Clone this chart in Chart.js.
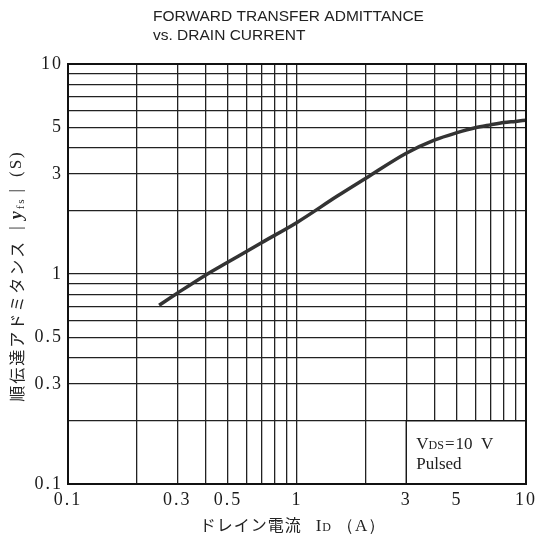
<!DOCTYPE html>
<html>
<head>
<meta charset="utf-8">
<script src="https://cdn.jsdelivr.net/npm/chart.js@4"></script>
<style>
  html, body { margin: 0; padding: 0; background: #fff; }
  #wrap { width: 540px; height: 544px; }
</style>
</head>
<body>
<div id="wrap"><canvas id="chart" width="540" height="544"></canvas></div>
<script>
// データ
const drainCurrent = [0.25, 0.3, 0.4, 0.5, 0.7, 1, 1.5, 2, 3, 4, 5, 6, 7, 8, 9, 10];
const admittance  = [0.71, 0.81, 0.99, 1.14, 1.41, 1.76, 2.35, 2.86, 3.76, 4.35, 4.71, 4.97, 5.13, 5.26, 5.33, 5.4];

const gridValues = [0.1, 0.2, 0.3, 0.4, 0.5, 0.6, 0.7, 0.8, 0.9, 1, 2, 3, 4, 5, 6, 7, 8, 9, 10];
const xTickLabels = [0.1, 0.3, 0.5, 1, 3, 5, 10];
const yTickLabels = [0.1, 0.3, 0.5, 1, 3, 5, 10];

// 凡例ボックス (条件表示) の範囲
const noteBoxX = [3, 10];
const noteBoxY = [0.1, 0.2];

const serif = "'Liberation Serif', 'DejaVu Serif', serif";
const jp = "'Noto Sans CJK JP', sans-serif";

// サブスクリプト付きテキストを描く
function drawParts(ctx, parts, x, y) {
    let cx = x;
    parts.forEach(p => {
        ctx.font = p.font;
        ctx.fillText(p.t, cx, y + (p.dy || 0));
        cx += ctx.measureText(p.t).width + (p.gap || 0);
    });
    return cx;
}
function partsWidth(ctx, parts) {
    let w = 0;
    parts.forEach(p => {
        ctx.font = p.font;
        w += ctx.measureText(p.t).width + (p.gap || 0);
    });
    return w;
}

const decorPlugin = {
    id: 'decor',
    beforeDraw(chart) {
        chart.ctx.letterSpacing = '2px';
    },
    afterDatasetsDraw(chart) {
        const { ctx, chartArea, scales } = chart;
        const x = scales.x, y = scales.y;
        ctx.save();
        ctx.letterSpacing = '0px';

        // 条件ボックス
        const bx0 = x.getPixelForValue(noteBoxX[0]);
        const bx1 = x.getPixelForValue(noteBoxX[1]);
        const by0 = y.getPixelForValue(noteBoxY[1]);
        const by1 = y.getPixelForValue(noteBoxY[0]);
        ctx.fillStyle = '#fff';
        ctx.fillRect(bx0, by0, bx1 - bx0, by1 - by0);
        ctx.strokeStyle = '#111';
        ctx.lineWidth = 1.4;
        ctx.strokeRect(bx0, by0, bx1 - bx0, by1 - by0);

        ctx.fillStyle = '#222';
        ctx.textBaseline = 'alphabetic';
        drawParts(ctx, [
            { t: 'V', font: '17px ' + serif },
            { t: 'DS', font: '12px ' + serif, gap: 1 },
            { t: '=', font: '17px ' + serif, gap: 1 },
            { t: '10  V', font: '17px ' + serif }
        ], bx0 + 10, by0 + 28);
        ctx.font = '17px ' + serif;
        ctx.fillText('Pulsed', bx0 + 10, by0 + 48);

        // 外枠
        ctx.strokeStyle = '#111';
        ctx.lineWidth = 2;
        ctx.strokeRect(chartArea.left, chartArea.top,
            chartArea.right - chartArea.left, chartArea.bottom - chartArea.top);

        // タイトル
        ctx.fillStyle = '#222';
        ctx.font = "15.5px 'Liberation Sans', Arial, sans-serif";
        ctx.fillText('FORWARD TRANSFER ADMITTANCE', 153, 21);
        ctx.fillText('vs. DRAIN CURRENT', 153, 40);

        // X軸タイトル
        ctx.letterSpacing = '1px';
        const xParts = [
            { t: 'ドレイン電流', font: '16px ' + jp, gap: 14 },
            { t: 'I', font: '17px ' + serif },
            { t: 'D', font: '12px ' + serif, gap: 5 },
            { t: '（A）', font: '17px ' + serif }
        ];
        const xw = partsWidth(ctx, xParts);
        const xc = (chartArea.left + chartArea.right) / 2 - 4;
        drawParts(ctx, xParts, xc - xw / 2, 531);

        // Y軸タイトル (縦書き、回転)
        ctx.translate(17, (chartArea.top + chartArea.bottom) / 2 + 2);
        ctx.rotate(-Math.PI / 2);
        ctx.textBaseline = 'middle';
        const yParts = [
            { t: '順伝達アドミタンス', font: '16px ' + jp, gap: 10 },
            { t: '|', font: '17px ' + serif, gap: 5 },
            { t: 'y', font: 'italic bold 18px ' + serif },
            { t: 'fs', font: '11px ' + serif, dy: 4, gap: 5 },
            { t: '|', font: '17px ' + serif, gap: 10 },
            { t: '(S)', font: '17px ' + serif }
        ];
        ctx.letterSpacing = '2px';
        const yw = partsWidth(ctx, yParts);
        drawParts(ctx, yParts, -yw / 2, 0);
        ctx.restore();
    }
};

const ctx = document.getElementById('chart').getContext('2d');

const myChart = new Chart(ctx, {
    type: 'line',
    data: {
        datasets: [{
            data: drainCurrent.map((v, i) => ({ x: v, y: admittance[i] })),
            borderColor: '#333',
            borderWidth: 3.5,
            pointRadius: 0,
            cubicInterpolationMode: 'monotone',
            fill: false
        }]
    },
    options: {
        responsive: false,
        animation: false,
        layout: { padding: { left: 24, right: 13, top: 64, bottom: 0 } },
        plugins: {
            legend: { display: false },
            tooltip: { enabled: false },
            title: { display: false }
        },
        scales: {
            x: {
                type: 'logarithmic',
                min: 0.1,
                max: 10,
                afterBuildTicks: scale => { scale.ticks = gridValues.map(v => ({ value: v })); },
                afterFit: scale => { scale.height = 60; },
                grid: { color: '#222', lineWidth: 1.3, drawTicks: false },
                border: { color: '#111', width: 2 },
                ticks: {
                    autoSkip: false,
                    maxRotation: 0,
                    padding: 5,
                    color: '#1a1a1a',
                    font: { family: serif, size: 18 },
                    callback: v => xTickLabels.includes(v) ? String(v) : ''
                }
            },
            y: {
                type: 'logarithmic',
                min: 0.1,
                max: 10,
                afterBuildTicks: scale => { scale.ticks = gridValues.map(v => ({ value: v })); },
                afterFit: scale => { scale.width = 44; },
                grid: { color: '#222', lineWidth: 1.3, drawTicks: false },
                border: { color: '#111', width: 2 },
                ticks: {
                    autoSkip: false,
                    padding: 5,
                    color: '#1a1a1a',
                    font: { family: serif, size: 18 },
                    callback: v => yTickLabels.includes(v) ? String(v) : ''
                }
            }
        }
    },
    plugins: [decorPlugin]
});
</script>
</body>
</html>
